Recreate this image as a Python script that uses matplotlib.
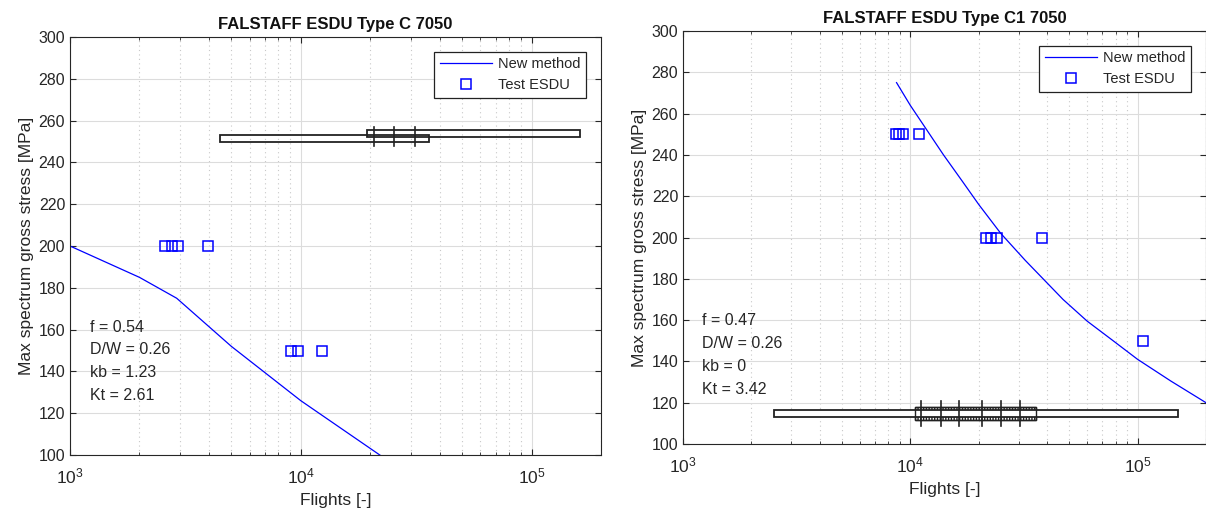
import numpy as np
import matplotlib.pyplot as plt
from matplotlib.patches import Rectangle
from matplotlib.ticker import LogLocator, NullFormatter, MultipleLocator

plt.rcParams['font.family'] = ['Liberation Sans', 'DejaVu Sans']
plt.rcParams['mathtext.fontset'] = 'custom'
plt.rcParams['mathtext.rm'] = 'Liberation Sans'
plt.rcParams['mathtext.it'] = 'Liberation Sans:italic'
plt.rcParams['mathtext.bf'] = 'Liberation Sans:bold'

# ---- left chart: Type C
c_line_x = [1e3, 2e3, 2.9e3, 5e3, 1e4, 2.2e4, 3e4]
c_line_y = [200, 185, 175, 152, 126, 100, 90]
c_test_x = [2.57e3, 2.77e3, 2.95e3, 3.98e3, 9.05e3, 9.7e3, 1.23e4]
c_test_y = [200, 200, 200, 200, 150, 150, 150]
# scatter bands (x range, y range)
c_bands = [([4.45e3, 3.6e4], [250, 253]),
           ([1.94e4, 1.62e5], [252.3, 255.5])]
c_ticks_x = [2.07e4, 2.54e4, 3.13e4]
c_ticks_y = [248, 257]
c_params = ['f = 0.54', 'D/W = 0.26', 'kb = 1.23', 'Kt = 2.61']

# ---- right chart: Type C1
c1_line_x = [8.7e3, 1e4, 1.2e4, 1.4e4, 1.7e4, 2e4, 2.5e4, 3.2e4, 4.7e4, 6e4, 7.7e4, 1e5, 1.4e5, 2e5]
c1_line_y = [275, 264, 251, 240, 227, 216, 202, 189, 170, 159.5, 150.5, 141, 130.5, 120]
c1_test_x = [8.65e3, 8.95e3, 9.25e3, 1.09e4, 2.15e4, 2.26e4, 2.4e4, 3.8e4, 1.06e5]
c1_test_y = [250, 250, 250, 250, 200, 200, 200, 200, 150]
c1_hatch = ([1.05e4, 3.56e4], [111.5, 117.8])
c1_long = ([2.51e3, 1.5e5], [113.1, 116.3])
c1_ticks_x = [1.12e4, 1.36e4, 1.64e4, 2.06e4, 2.5e4, 3.03e4]
c1_ticks_y = [108.9, 120.8]
c1_params = ['f = 0.47', 'D/W = 0.26', 'kb = 0', 'Kt = 3.42']

fig = plt.figure(figsize=(12.06, 5.15), dpi=100)
ax1 = fig.add_axes([70/1206, 1-455/515, 531/1206, 418/515])
ax2 = fig.add_axes([683/1206, 1-444/515, 523/1206, 413/515])

tc = '#262626'


def style(ax, title):
    ax.set_xscale('log')
    ax.set_xlim(1e3, 2e5)
    ax.set_ylim(100, 300)
    ax.yaxis.set_major_locator(MultipleLocator(20))
    ax.xaxis.set_major_locator(LogLocator(base=10, numticks=10))
    ax.xaxis.set_minor_locator(LogLocator(base=10, subs=np.arange(2, 10), numticks=20))
    ax.xaxis.set_minor_formatter(NullFormatter())
    ax.grid(True, which='major', color='#dcdcdc', lw=0.8, ls='-')
    ax.grid(True, which='minor', axis='x', color='#c8c8c8', lw=0.8, ls=(0, (1, 3)))
    ax.set_axisbelow(True)
    ax.tick_params(which='both', direction='in', top=True, right=True,
                   colors=tc, labelsize=11.5, labelcolor=tc)
    ax.tick_params(which='major', length=4)
    ax.tick_params(which='minor', length=2)
    ax.tick_params(axis='x', pad=8, labelsize=12.5)
    for s in ax.spines.values():
        s.set_color(tc)
        s.set_linewidth(0.8)
    ax.set_title(title, fontsize=12, fontweight='bold', color='#111111', pad=6)
    ax.set_xlabel('Flights [-]', fontsize=12.5, color=tc, labelpad=5)
    ax.set_ylabel('Max spectrum gross stress [MPa]', fontsize=12.5, color=tc, labelpad=3)


def box(ax, xr, yr, **kw):
    ax.add_patch(Rectangle((xr[0], yr[0]), xr[1]-xr[0], yr[1]-yr[0], **kw))


# left
style(ax1, 'FALSTAFF ESDU Type C 7050')
ax1.plot(c_line_x, c_line_y, color='#0000ff', lw=0.9, label='New method')
ax1.plot(c_test_x, c_test_y, 's', mfc='none', mec='#0000ff', ms=6.5, mew=1.1, label='Test ESDU')
for xr, yr in c_bands:
    box(ax1, xr, yr, fill=False, ec='#222222', lw=1.3)
for x in c_ticks_x:
    ax1.plot([x, x], c_ticks_y, color='#222222', lw=1.2)
for i, t in enumerate(c_params):
    ax1.text(0.038, 0.306 - i*0.0545, t, transform=ax1.transAxes, fontsize=11.5,
             color=tc, va='center')

# right
style(ax2, 'FALSTAFF ESDU Type C1 7050')
ax2.plot(c1_line_x, c1_line_y, color='#0000ff', lw=0.9, label='New method')
ax2.plot(c1_test_x, c1_test_y, 's', mfc='none', mec='#0000ff', ms=6.5, mew=1.1, label='Test ESDU')
box(ax2, c1_hatch[0], c1_hatch[1], fill=False, ec='#222222', lw=1.0, hatch='||||||')
box(ax2, c1_long[0], c1_long[1], fc='white', ec='#222222', lw=1.3)
box(ax2, c1_hatch[0], c1_hatch[1], fill=False, ec='#222222', lw=1.0)
for x in c1_ticks_x:
    ax2.plot([x, x], c1_ticks_y, color='#222222', lw=1.2)
for i, t in enumerate(c1_params):
    ax2.text(0.036, 0.298 - i*0.055, t, transform=ax2.transAxes, fontsize=11.5,
             color=tc, va='center')

for ax in (ax1, ax2):
    leg = ax.legend(loc='upper right', fontsize=10.5, handlelength=3.6, borderaxespad=1.0,
                    fancybox=False, framealpha=1, edgecolor='#222222', borderpad=0.4,
                    labelspacing=0.45, handletextpad=0.4)
    leg.get_frame().set_linewidth(0.9)
    for t in leg.get_texts():
        t.set_color(tc)

fig.savefig('out.png', dpi=100)
